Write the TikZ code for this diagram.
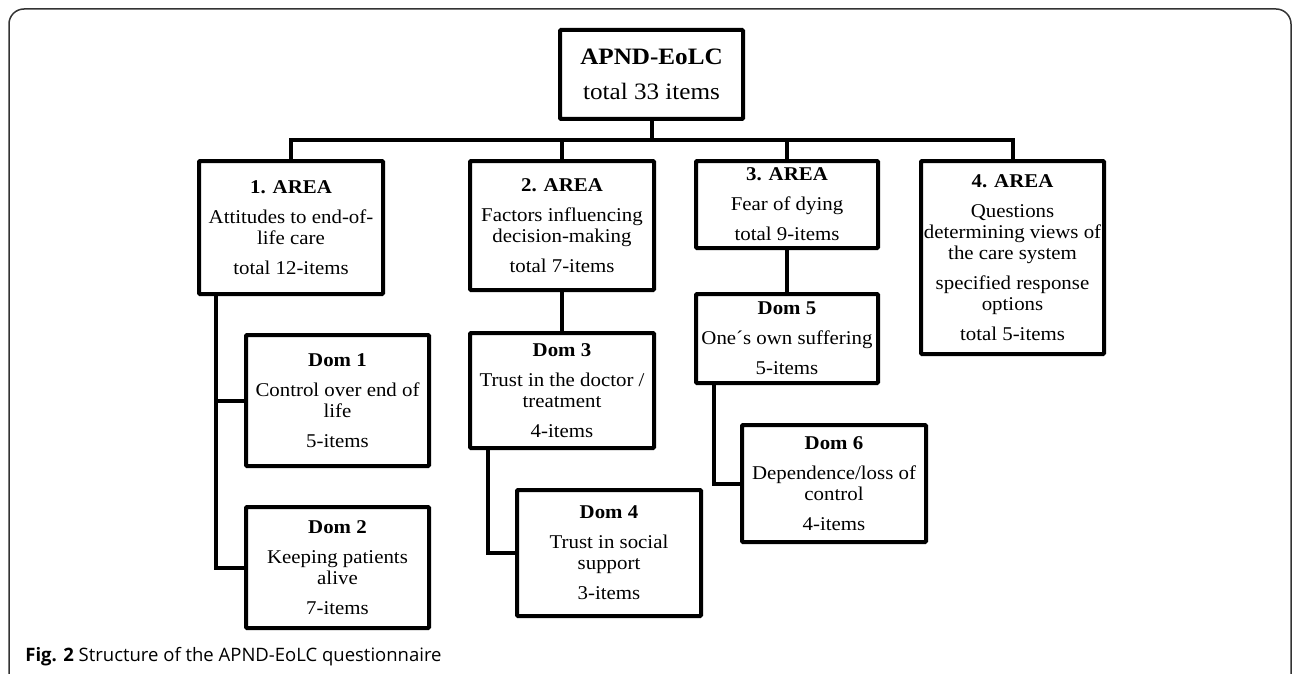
\documentclass[tikz,border=0pt]{standalone}
\usepackage{fontspec}
\setmainfont{Liberation Serif}[FakeStretch=1.07]
\newfontfamily\capfont{Open Sans}

\newcommand{\boxfont}{\fontsize{19.5}{21}\selectfont}
\newcommand{\rootfont}{\fontsize{23.5}{27}\selectfont}

\begin{document}
\begin{tikzpicture}[
        x=1pt, y=-1pt,
        thick,
        frame/.style={draw=black!80, line width=1.5pt, rounded corners=15pt},
        unit_box/.style={rectangle, draw, line width=4pt, rounded corners=1pt, align=center, inner sep=0pt, minimum width=184pt, font=\boxfont},
        root_box/.style={unit_box, minimum width=183pt, minimum height=89pt, font=\rootfont},
        link/.style={draw, line width=4pt}
    ]
        \useasboundingbox (0,0) rectangle (1292,674);

        % Outer frame, open at the bottom
        \draw[frame] (9,674) -- (9,9) -- (1291,9) -- (1291,674);

        % Questionnaire
        \node[root_box] (root) at (651.5,74.5) {\textbf{APND-EoLC}\\[8pt]total 33 items};

        % Areas
        \node[unit_box, minimum height=133pt] (area_one) at (291,227.5) {
            \textbf{1. AREA}\\[9pt]Attitudes to end-of-\\life care\\[9pt]total 12-items};
        \node[unit_box, minimum height=129pt] (area_two) at (562,225.5) {
            \textbf{2. AREA}\\[9pt]Factors influencing\\decision-making\\[9pt]total 7-items};
        \node[unit_box, minimum width=182pt, minimum height=87pt] (area_three) at (787,204.5) {
            \textbf{3. AREA}\\[9pt]Fear of dying\\[9pt]total 9-items};
        \node[unit_box, minimum width=183pt, minimum height=193pt] (area_four) at (1012.5,257.5) {
            \textbf{4. AREA}\\[9pt]Questions\\determining views of\\the care system\\[9pt]specified response\\options\\[9pt]total 5-items};

        % Domains
        \node[unit_box, minimum width=183pt, minimum height=131pt] (dom_one) at (337.5,400.5) {
            \textbf{Dom 1}\\[9pt]Control over end of\\life\\[9pt]5-items};
        \node[unit_box, minimum width=183pt, minimum height=121pt] (dom_two) at (337.5,567.5) {
            \textbf{Dom 2}\\[9pt]Keeping patients\\alive\\[9pt]7-items};
        \node[unit_box, minimum height=115pt] (dom_three) at (562,390.5) {
            \textbf{Dom 3}\\[9pt]Trust in the doctor /\\treatment\\[9pt]4-items};
        \node[unit_box, minimum height=126pt] (dom_four) at (609,553) {
            \textbf{Dom 4}\\[9pt]Trust in social\\support\\[9pt]3-items};
        \node[unit_box, minimum width=182pt, minimum height=89pt] (dom_five) at (787,338.5) {
            \textbf{Dom 5}\\[9pt]One´s own suffering\\[9pt]5-items};
        \node[unit_box, minimum height=117pt] (dom_six) at (834,483.5) {
            \textbf{Dom 6}\\[9pt]Dependence/loss of\\control\\[9pt]4-items};

        % Tree from the questionnaire to the areas
        \coordinate (bus) at ([yshift=-19pt]root.south);
        \foreach \area in {area_one, area_two, area_three, area_four}
            \draw[link] (root.south) -- (bus) -| (\area.north);

        % Areas to domains
        \coordinate (area_one_leg) at ([xshift=19pt]area_one.south west);
        \draw[link] (area_one_leg) |- (dom_one.west);
        \draw[link] (area_one_leg) |- (dom_two.west);
        \draw[link] (area_two.south) -- (dom_three.north);
        \coordinate (dom_three_leg) at ([xshift=20pt]dom_three.south west);
        \draw[link] (dom_three_leg) |- (dom_four.west);
        \draw[link] (area_three.south) -- (dom_five.north);
        \coordinate (dom_five_leg) at ([xshift=20pt]dom_five.south west);
        \draw[link] (dom_five_leg) |- (dom_six.west);

        % Caption
        \node[anchor=base west, inner sep=0pt, font=\capfont\fontsize{18.5}{20}\selectfont] (caption) at (25,661) {\textbf{Fig. 2} Structure of the APND-EoLC questionnaire};

\end{tikzpicture}
\end{document}
